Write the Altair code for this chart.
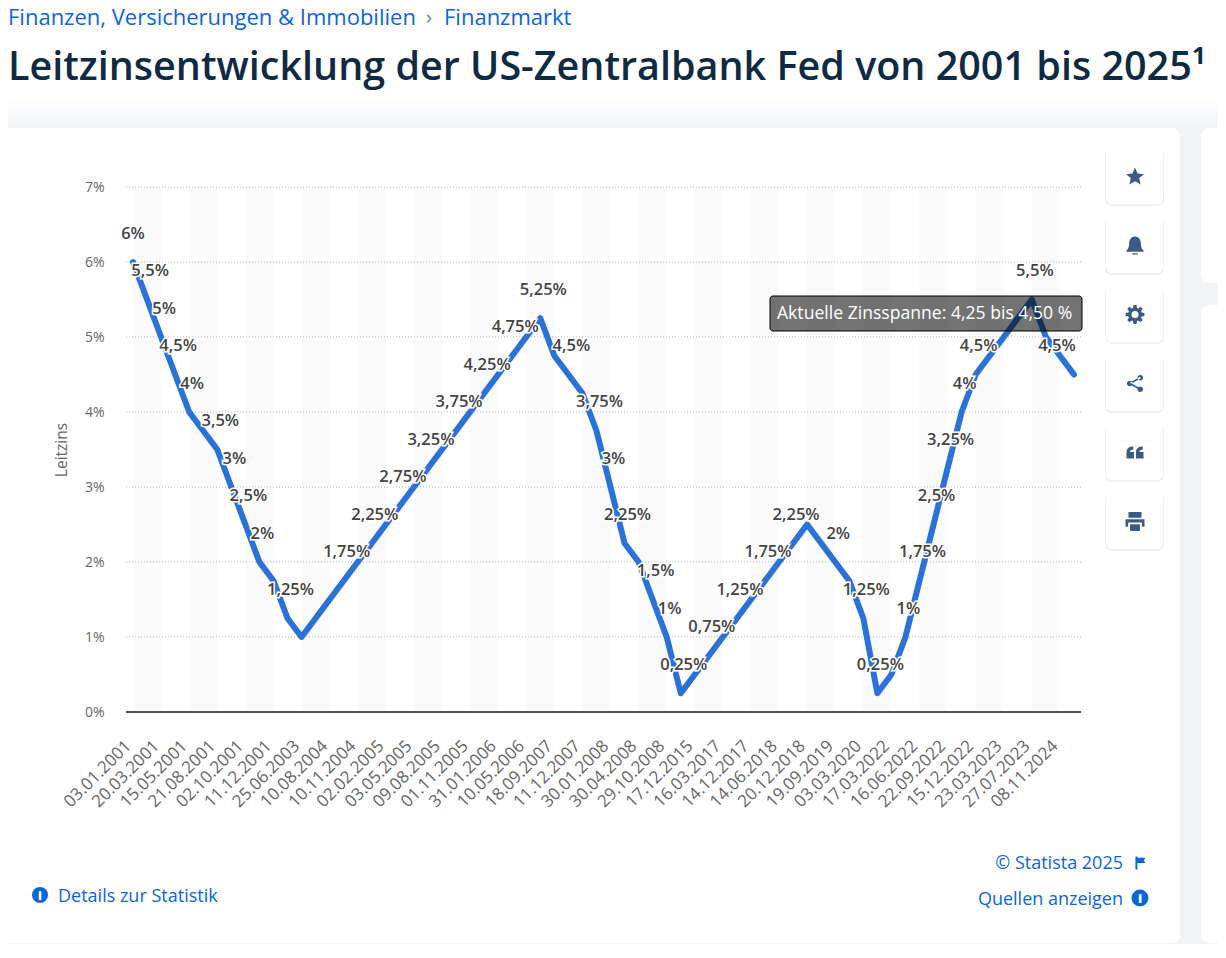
import math
import altair as alt
import pandas as pd

dates = ["03.01.2001","31.01.2001","20.03.2001","18.04.2001","15.05.2001","27.06.2001","21.08.2001","17.09.2001",
"02.10.2001","06.11.2001","11.12.2001","06.11.2002","25.06.2003","30.06.2004","10.08.2004","21.09.2004",
"10.11.2004","14.12.2004","02.02.2005","22.03.2005","03.05.2005","30.06.2005","09.08.2005","20.09.2005",
"01.11.2005","13.12.2005","31.01.2006","28.03.2006","10.05.2006","29.06.2006","18.09.2007","31.10.2007",
"11.12.2007","22.01.2008","30.01.2008","18.03.2008","30.04.2008","08.10.2008","29.10.2008","16.12.2008",
"17.12.2015","15.12.2016","16.03.2017","14.06.2017","14.12.2017","22.03.2018","14.06.2018","27.09.2018",
"20.12.2018","01.08.2019","19.09.2019","31.10.2019","03.03.2020","16.03.2020","17.03.2022","05.05.2022",
"16.06.2022","28.07.2022","22.09.2022","03.11.2022","15.12.2022","02.02.2023","23.03.2023","04.05.2023",
"27.07.2023","19.09.2024","08.11.2024","19.12.2024"]
rates = [6,5.5,5,4.5,4,3.75,3.5,3,2.5,2,1.75,1.25,1,1.25,1.5,1.75,2,2.25,2.5,2.75,3,3.25,3.5,3.75,4,4.25,4.5,
4.75,5,5.25,4.75,4.5,4.25,3.75,3,2.25,2,1.5,1,0.25,0.5,0.75,1,1.25,1.5,1.75,2,2.25,2.5,2.25,2,1.75,1.25,0.25,
0.5,1,1.75,2.5,3.25,4,4.5,4.75,5,5.25,5.5,5,4.75,4.5]
labelled = [0,1,2,3,4,6,7,8,9,11,15,17,19,21,23,25,27,29,31,33,34,35,37,38,39,41,43,45,47,50,52,53,55,56,57,58,59,60,64,67]
y_ticks = [0,1,2,3,4,5,6,7]

BLUE = "#0b66d6"
LINE = "#2a72d8"
ICON = "#3d5a80"
FONT = "Open Sans"
PW, PH = 955, 525
OX, OY = 126, 187
W, H = 1210, 936


def fmt(v):
    return (("%g" % v).replace(".", ",")) + "%"


df = pd.DataFrame({"date": dates, "rate": rates})
df_lab = pd.DataFrame({"date": [dates[i] for i in labelled], "rate": [rates[i] for i in labelled],
                       "txt": [fmt(rates[i]) for i in labelled]})
df_bands = pd.DataFrame({"a": dates[0:-2:4], "b": dates[2::4]})
df_ticks = pd.DataFrame({"v": y_ticks})

xs = alt.Scale(type="point", domain=dates, padding=0.5)
ys = alt.Scale(domain=[0, 7])
x_axis = alt.Axis(values=dates[0::2], labelAngle=-45, labelAlign="right", labelBaseline="middle",
                  labelFont=FONT, labelFontSize=17, labelColor="#666666", labelPadding=31, labelOffset=-5,
                  labelOverlap=False, labelFlush=False, labelBound=False, ticks=False, domain=False, grid=False,
                  zindex=1)
y_axis = alt.Axis(values=y_ticks, labelExpr="datum.value + '%'", labelFont=FONT, labelFontSize=14,
                  labelColor="#666666", labelPadding=22, ticks=False, domain=False, grid=False,
                  titleFont=FONT, titleFontSize=15.5, titleFontWeight=400, titleColor="#666666", titlePadding=15,
                  zindex=1)
X = alt.X("date:N", scale=xs, sort=None, title=None, axis=x_axis)
Y = alt.Y("rate:Q", scale=ys, title="Leitzins", axis=y_axis)


def box(x1, y1, x2, y2, fill, radius=0, **kw):
    return alt.Chart().mark_rect(color=fill, cornerRadius=radius, **kw).encode(
        x=alt.value(x1 - OX), x2=alt.value(x2 - OX), y=alt.value(y1 - OY), y2=alt.value(y2 - OY))


def label(x, y, s, size=18, color=BLUE, align="left", weight=400, **kw):
    return alt.Chart().mark_text(text=s, font=FONT, fontSize=size, color=color, align=align,
                                 baseline="alphabetic", fontWeight=weight, **kw).encode(
        x=alt.value(x - OX), y=alt.value(y - OY))


def icon(x, y, path, px, color=ICON):
    return alt.Chart().mark_point(shape=path, filled=True, size=px * px, color=color, opacity=1, strokeWidth=0).encode(
        x=alt.value(x - OX), y=alt.value(y - OY))


def disc(x, y, d, color):
    return alt.Chart().mark_point(shape="circle", filled=True, size=d * d, color=color, opacity=1, strokeWidth=0).encode(
        x=alt.value(x - OX), y=alt.value(y - OY))


def ring(cx, cy, r):
    return f"M{cx-r},{cy} A{r},{r} 0 1 0 {cx+r},{cy} A{r},{r} 0 1 0 {cx-r},{cy} Z "


STAR = "M0,-1 L.29,-.33 L1,-.26 L.47,.18 L.62,.9 L0,.53 L-.62,.9 L-.47,.18 L-1,-.26 L-.29,-.33 Z"
BELL = ("M0,-1 C.45,-1 .65,-.6 .65,-.2 C.65,.2 .8,.4 .95,.55 L.95,.7 L-.95,.7 L-.95,.55 "
        "C-.8,.4 -.65,.2 -.65,-.2 C-.65,-.6 -.45,-1 0,-1 Z M-.3,.85 L.3,.85 L.3,1 L-.3,1 Z")
gear_pts = []
for k in range(8):
    a = k * math.pi / 4
    for da, r in ((-.3, .72), (-.16, 1), (.16, 1), (.3, .72)):
        gear_pts.append(f"{r*math.cos(a+da):.3f},{r*math.sin(a+da):.3f}")
GEAR = "M" + " L".join(gear_pts) + " Z"
SHARE = (ring(.62, -.68, .33) + ring(-.62, 0, .33) + ring(.62, .68, .33) +
         "M-.62,-.1 L.6,-.78 L.66,-.58 L-.56,.1 Z M-.62,.1 L.6,.78 L.66,.58 L-.56,-.1 Z")
QUOTE = ("M-1,0 C-1,-.5 -.7,-.7 -.2,-.7 L-.2,-.35 C-.45,-.35 -.6,-.25 -.6,-.05 L-.12,-.05 L-.12,.7 L-1,.7 Z "
         "M.12,0 C.12,-.5 .42,-.7 .92,-.7 L.92,-.35 C.67,-.35 .52,-.25 .52,-.05 L1,-.05 L1,.7 L.12,.7 Z")
PRINT = ("M-1,-.25 L1,-.25 L1,.55 L.72,.55 L.72,.1 L-.72,.1 L-.72,.55 L-1,.55 Z "
         "M-.68,-1 L.68,-1 L.68,-.4 L-.68,-.4 Z M-.52,.3 L.52,.3 L.52,1 L-.52,1 Z")
FLAG = "M-.7,-1 L-.4,-1 L-.4,-.8 L.85,-.8 L.55,-.4 L.85,0 L-.4,0 L-.4,1 L-.7,1 Z"

layers = []
# page and cards
layers.append(alt.Chart().mark_rect(color=alt.Gradient(gradient="linear", x1=0, x2=0, y1=0, y2=1,
              stops=[alt.GradientStop(color="#ffffff", offset=0), alt.GradientStop(color="#f0f2f6", offset=1)])).encode(
    x=alt.value(8 - OX), x2=alt.value(1226 - OX), y=alt.value(95 - OY), y2=alt.value(135 - OY)))
layers.append(box(8, 135, 1226, 950, "#f1f3f7"))
layers.append(box(0, 128, 1180, 943, "#ffffff", 8))
layers.append(box(1201, 128, 1230, 283, "#ffffff", 8))
layers.append(box(1201, 305, 1230, 943, "#ffffff", 8))

# header text
layers.append(label(8, 25, "Finanzen, Versicherungen & Immobilien", 22))
layers.append(label(426, 24, "›", 20, "#5b7fa8"))
layers.append(label(444, 25, "Finanzmarkt", 22))
layers.append(label(8, 80, "Leitzinsentwicklung der US-Zentralbank Fed von 2001 bis 2025¹", 39.5, "#0f2a43", weight=600))

# sidebar buttons and icons
tops = [147, 216, 285, 354, 423, 492]
paths = [(STAR, 18), (BELL, 18), (GEAR, 19), (SHARE, 17), (QUOTE, 17), (PRINT, 19)]
for t, (p, s) in zip(tops, paths):
    layers.append(box(1105, t + 1, 1164, t + 59, "#eef0f4", 7))
    layers.append(box(1106, t, 1163, t + 57, "#ffffff", 6))
    layers.append(icon(1135, t + 29.5, p, s))
layers.append(disc(1135, 314.5, 7, "#ffffff"))

# footer
layers.append(label(1123, 869, "© Statista 2025", align="right"))
layers.append(icon(1140, 863, FLAG, 13, BLUE))
layers.append(label(1123, 905, "Quellen anzeigen", align="right"))
layers.append(disc(1140, 898, 17, BLUE))
layers.append(label(1140, 903, "i", 13, "#ffffff", align="center", weight=800))
layers.append(label(58, 902, "Details zur Statistik"))
layers.append(disc(40, 895, 16, BLUE))
layers.append(label(40, 900, "i", 12, "#ffffff", align="center", weight=800))

# stripes and grid
layers.append(alt.Chart(df_bands).mark_rect(color="#fafafa").encode(
    x=alt.X("a:N", scale=xs, sort=None, title=None, axis=x_axis), x2="b:N"))
layers.append(alt.Chart(df_ticks[df_ticks.v > 0]).mark_rule(color="#b5b5b5", strokeWidth=1, strokeDash=[1, 2]).encode(
    y=alt.Y("v:Q", scale=ys, title="Leitzins", axis=y_axis)))
layers.append(alt.Chart(df_ticks[df_ticks.v == 0]).mark_rule(color="#1a1a1a", strokeWidth=1.5).encode(
    y=alt.Y("v:Q", scale=ys, title="Leitzins", axis=y_axis)))

# series
layers.append(alt.Chart(df).mark_line(color=LINE, strokeWidth=6, strokeJoin="round", strokeCap="round").encode(x=X, y=Y))

for subset, dx in ((df_lab.iloc[[0]], 0), (df_lab.iloc[1:-1], 3), (df_lab.iloc[[-1]], -17)):
    common = dict(font=FONT, fontSize=16.5, fontWeight=600, baseline="middle", align="center", dy=-28.5, dx=dx)
    enc = dict(x=X, y=Y, text="txt:N")
    layers.append(alt.Chart(subset).mark_text(color="#ffffff", stroke="#ffffff", strokeWidth=3, **common).encode(**enc))
    layers.append(alt.Chart(subset).mark_text(color="#444444", **common).encode(**enc))

# annotation box
layers.append(alt.Chart().mark_rect(color="rgba(0,0,0,0.55)", stroke="#000000", strokeWidth=1, cornerRadius=3).encode(
    x=alt.value(770 - OX), x2=alt.value(1082 - OX), y=alt.value(296 - OY), y2=alt.value(331 - OY)))
layers.append(label(777, 319, "Aktuelle Zinsspanne: 4,25 bis 4,50 %", 17.6, "#ffffff"))

chart = alt.layer(*layers).properties(
    width=PW, height=PH,
    autosize=alt.AutoSizeParams(type="none"),
    padding={"left": OX - 8, "top": OY - 8, "right": W - (OX - 8) - PW, "bottom": H - (OY - 8) - PH},
    background="#ffffff",
).configure_view(stroke=None)

chart.save("out.html", embed_options={"renderer": "svg", "actions": False})
